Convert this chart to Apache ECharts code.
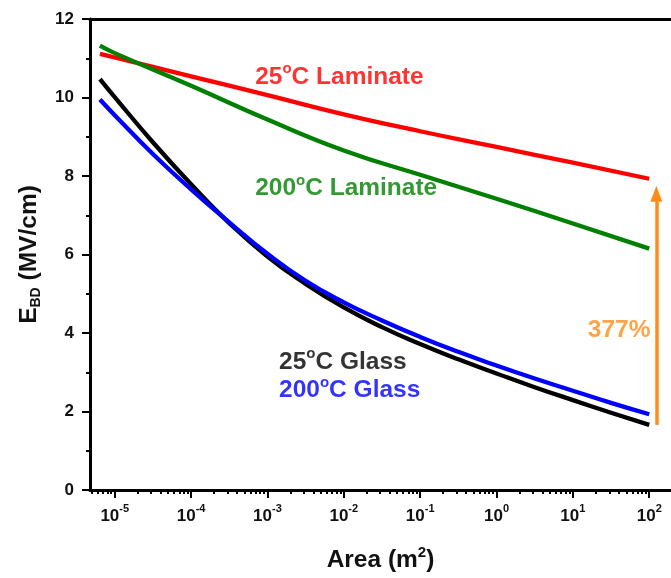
<!DOCTYPE html>
<html>
<head>
<meta charset="utf-8">
<script src="https://cdn.jsdelivr.net/npm/echarts@6/dist/echarts.min.js"></script>
<style>
  html, body { margin: 0; padding: 0; background: #fff; }
  #chart { width: 671px; height: 578px; }
</style>
</head>
<body>
<div id="chart"></div>
<script>
// Breakdown field vs. electrode area (Weibull area scaling)
const areaLaminate = [6.4e-6, 1e-5, 1e-4, 1e-3, 1e-2, 1e-1, 1, 10, 100];
const ebdLaminate25 = [11.11, 11.02, 10.54, 10.06, 9.57, 9.14, 8.74, 8.34, 7.93];
const ebdLaminate200 = [11.32, 11.13, 10.30, 9.44, 8.65, 8.03, 7.42, 6.79, 6.15];

const areaGlass = [6.4e-6, 1e-5, 3.16e-5, 1e-4, 3.16e-4, 1e-3, 3.16e-3, 1e-2, 3.16e-2,
                   1e-1, 3.16e-1, 1, 3.16, 10, 31.6, 100];
const ebdGlass25 = [10.47, 10.01, 8.86, 7.79, 6.80, 5.95, 5.25, 4.65, 4.15,
                    3.72, 3.33, 2.97, 2.62, 2.29, 1.97, 1.66];
const ebdGlass200 = [9.95, 9.55, 8.56, 7.66, 6.82, 6.02, 5.33, 4.78, 4.32,
                     3.90, 3.52, 3.17, 2.84, 2.53, 2.22, 1.93];

// Axis ticks (decade exponents) and ranges
const xDecades = [-5, -4, -3, -2, -1, 0, 1, 2];
const xRange = [-5.324, 2.285];
const yTicks = [0, 2, 4, 6, 8, 10, 12];

// Improvement arrow (at A = 124 m^2) and its annotation
const arrowArea = 124;
const arrowFrom = 1.66;
const arrowTo = 7.55;
const improvementText = '377%';

// Curve labels: [text before degree sign, text after, area at left edge, E_BD at middle, colour]
const curveNotes = [
  ['25', 'C Laminate', 6.9e-4, 10.56, '#ff0000'],
  ['200', 'C Laminate', 6.9e-4, 7.72, '#008000'],
  ['25', 'C Glass', 1.42e-3, 3.30, '#000000'],
  ['200', 'C Glass', 1.42e-3, 2.57, '#0000ff']
];
const percentNote = [15.7, 4.12];

const FONT = '"Liberation Sans", Arial, sans-serif';
const ORANGE = '#ff8c1a';
const lg = Math.log10;

const toPairs = (xs, ys) => xs.map((x, i) => [lg(x), ys[i]]);

const minorPositions = [];
for (let n = -6; n <= 2; n++) {
  for (let k = 2; k <= 9; k++) {
    const v = n + lg(k);
    if (v > xRange[0] && v < xRange[1]) minorPositions.push(v);
  }
}

const noteRich = {
  t: { fontFamily: FONT, fontSize: 24.5, fontWeight: 'bold', lineHeight: 28, verticalAlign: 'bottom' },
  o: { fontFamily: FONT, fontSize: 15, fontWeight: 'bold', lineHeight: 15, verticalAlign: 'top' }
};

function lineSeries(name, xs, ys, color) {
  return {
    name, type: 'line', data: toPairs(xs, ys),
    showSymbol: false, symbol: 'none',
    smooth: 0.5,
    lineStyle: { color, width: 4.3 },
    silent: true
  };
}

const series = [
  lineSeries('25C Laminate', areaLaminate, ebdLaminate25, '#ff0000'),
  lineSeries('200C Laminate', areaLaminate, ebdLaminate200, '#008000'),
  lineSeries('25C Glass', areaGlass, ebdGlass25, '#000000'),
  lineSeries('200C Glass', areaGlass, ebdGlass200, '#0000ff')
];

// improvement arrow
series[0].markLine = {
  silent: true,
  symbol: ['none', 'triangle'],
  symbolSize: [12, 16],
  label: { show: false },
  lineStyle: { color: ORANGE, width: 3.5, type: 'solid' },
  animation: false,
  data: [[{ coord: [lg(arrowArea), arrowFrom] }, { coord: [lg(arrowArea), arrowTo] }]]
};

// text annotations anchored in data space
series.push({
  type: 'scatter',
  symbolSize: 0,
  silent: true,
  z: 10,
  data: curveNotes.map(n => ({
    value: [lg(n[2]), n[3]],
    label: {
      show: true, position: 'right', distance: 0,
      formatter: '{t|' + n[0] + '}{o|o}{t|' + n[1] + '}',
      color: n[4], rich: noteRich
    }
  })).concat([{
    value: [lg(percentNote[0]), percentNote[1]],
    label: {
      show: true, position: 'right', distance: 0,
      formatter: '{t|' + improvementText + '}',
      color: ORANGE, rich: noteRich
    }
  }])
});

const axisLine = { show: true, onZero: false, lineStyle: { color: '#000', width: 3 } };

const option = {
  animation: false,
  backgroundColor: '#fff',
  grid: { left: 90, right: -6, top: 19, bottom: 85 },
  xAxis: [
    {
      type: 'value', min: xRange[0], max: xRange[1], position: 'bottom',
      axisLine,
      splitLine: { show: false },
      axisTick: { show: true, customValues: xDecades, length: 8, inside: false, lineStyle: { color: '#000', width: 2 } },
      axisLabel: {
        customValues: xDecades, margin: 13,
        formatter: v => '{b|10}{s|' + Math.round(v) + '}',
        rich: {
          b: { fontFamily: FONT, fontSize: 17, fontWeight: 'bold', color: '#111', lineHeight: 22, verticalAlign: 'bottom' },
          s: { fontFamily: FONT, fontSize: 11, fontWeight: 'bold', color: '#111', lineHeight: 12, verticalAlign: 'top' }
        }
      },
      name: '{m|Area (m}{s|2}{m|)}',
      nameLocation: 'middle', nameGap: 55,
      nameTextStyle: {
        rich: {
          m: { fontFamily: FONT, fontSize: 24.5, fontWeight: 'bold', color: '#111', lineHeight: 28, verticalAlign: 'bottom' },
          s: { fontFamily: FONT, fontSize: 15, fontWeight: 'bold', color: '#111', lineHeight: 15, verticalAlign: 'top' }
        }
      }
    },
    {
      type: 'value', min: xRange[0], max: xRange[1], position: 'bottom',
      axisLine: { show: false, onZero: false },
      splitLine: { show: false },
      axisTick: { show: true, customValues: minorPositions, length: 4, inside: false, lineStyle: { color: '#000', width: 2 } },
      axisLabel: { show: false }
    },
    {
      type: 'value', min: xRange[0], max: xRange[1], position: 'top',
      axisLine,
      splitLine: { show: false },
      axisTick: { show: false },
      axisLabel: { show: false }
    }
  ],
  yAxis: {
    type: 'value', min: yTicks[0], max: yTicks[yTicks.length - 1], interval: 2,
    position: 'left',
    axisLine,
    splitLine: { show: false },
    axisTick: { show: true, length: 8, lineStyle: { color: '#000', width: 2 } },
    minorTick: { show: true, splitNumber: 2, length: 4, lineStyle: { color: '#000', width: 2 } },
    minorSplitLine: { show: false },
    axisLabel: { fontFamily: FONT, fontSize: 17, fontWeight: 'bold', color: '#111', margin: 16 },
    name: '{m|E}{b|BD}{m| (MV/cm)}',
    nameLocation: 'middle', nameRotate: 90, nameGap: 47,
    nameTextStyle: {
      rich: {
        m: { fontFamily: FONT, fontSize: 24.5, fontWeight: 'bold', color: '#111', lineHeight: 26, verticalAlign: 'top' },
        b: { fontFamily: FONT, fontSize: 14, fontWeight: 'bold', color: '#111', lineHeight: 14, padding: [20, 0, 0, 0], verticalAlign: 'bottom' }
      }
    }
  },
  series
};

const chart = echarts.init(document.getElementById('chart'), null, { renderer: 'canvas' });
chart.setOption(option);
</script>
</body>
</html>
